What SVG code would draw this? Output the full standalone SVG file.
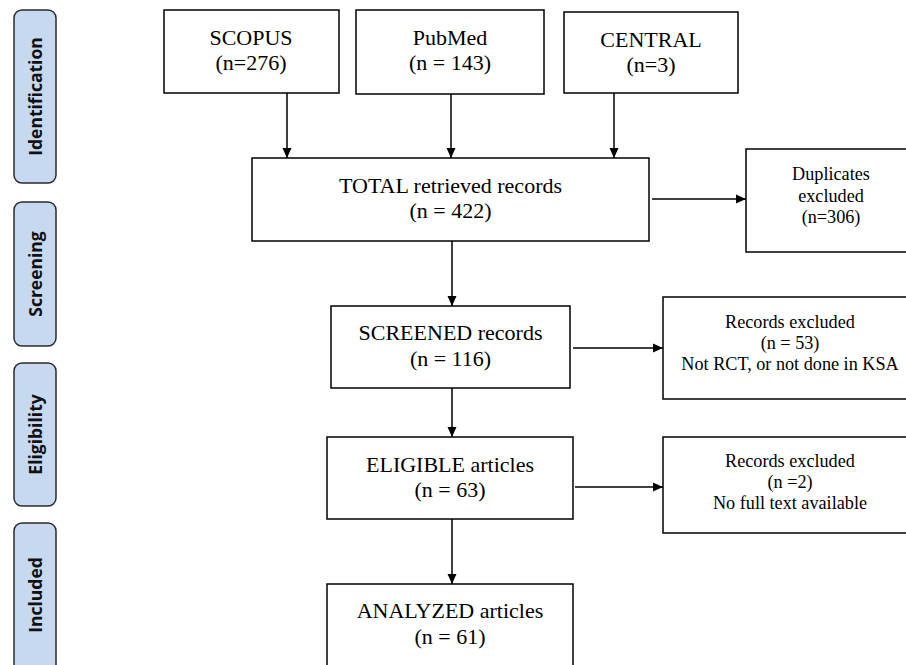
<svg xmlns="http://www.w3.org/2000/svg" width="906" height="665" viewBox="0 0 906 665">
<style>
.side{fill:#c6d9f1;stroke:#2b2b2b;stroke-width:1.5}
.st{font-family:"Open Sans","DejaVu Sans",sans-serif;font-weight:bold;font-size:17.5px;fill:#111;text-anchor:middle}
.box{fill:#fff;stroke:#000;stroke-width:1.5}
.t{font-family:"Liberation Serif","Times New Roman",serif;font-size:22px;fill:#000;text-anchor:middle}
.s{font-family:"Liberation Serif","Times New Roman",serif;font-size:18.2px;fill:#000;text-anchor:middle}
.c{stroke:#000;stroke-width:1.5;fill:none;marker-end:url(#ah)}
</style>
<defs>
<marker id="ah" markerWidth="10" markerHeight="10" refX="10" refY="5" orient="auto" markerUnits="userSpaceOnUse">
<path d="M0,0.5 L10,5 L0,9.5 Z" fill="#000"/>
</marker>
</defs>
<rect width="906" height="665" fill="#fff"/>
<g id="stage-identification"><rect class="side" x="14" y="10" width="42" height="173" rx="8"/><text class="st" transform="translate(42,96.5) rotate(-90)">Identification</text></g>
<g id="stage-screening"><rect class="side" x="14" y="202" width="42" height="144" rx="8"/><text class="st" transform="translate(42,274) rotate(-90)">Screening</text></g>
<g id="stage-eligibility"><rect class="side" x="14" y="363" width="42" height="143" rx="8"/><text class="st" transform="translate(42,434.5) rotate(-90)">Eligibility</text></g>
<g id="stage-included"><rect class="side" x="14" y="523" width="42" height="160" rx="8"/><text class="st" transform="translate(42,595) rotate(-90)">Included</text></g>
<g id="scopus"><rect class="box" x="164" y="10" width="175" height="83"/><text class="t" x="251" y="45">SCOPUS</text><text class="t" x="251" y="70">(n=276)</text></g>
<g id="pubmed"><rect class="box" x="356" y="10" width="188" height="84"/><text class="t" x="450" y="45">PubMed</text><text class="t" x="450" y="70">(n = 143)</text></g>
<g id="central"><rect class="box" x="564" y="12" width="174" height="81"/><text class="t" x="651" y="47">CENTRAL</text><text class="t" x="651" y="72">(n=3)</text></g>
<g id="total"><rect class="box" x="252" y="158" width="397" height="83"/><text class="t" x="450.5" y="193">TOTAL retrieved records</text><text class="t" x="450.5" y="218">(n = 422)</text></g>
<g id="duplicates"><rect class="box" x="746" y="149" width="170" height="103"/><text class="s" x="831" y="180">Duplicates</text><text class="s" x="831" y="202">excluded</text><text class="s" x="831" y="223">(n=306)</text></g>
<g id="screened"><rect class="box" x="331" y="306" width="239" height="82"/><text class="t" x="450.5" y="340">SCREENED records</text><text class="t" x="450.5" y="366">(n = 116)</text></g>
<g id="excluded1"><rect class="box" x="663" y="297" width="253" height="102"/><text class="s" x="790" y="328">Records excluded</text><text class="s" x="790" y="349">(n = 53)</text><text class="s" x="790" y="370">Not RCT, or not done in KSA</text></g>
<g id="eligible"><rect class="box" x="327" y="437" width="246" height="82"/><text class="t" x="450" y="472">ELIGIBLE articles</text><text class="t" x="450" y="497">(n = 63)</text></g>
<g id="excluded2"><rect class="box" x="663" y="437" width="253" height="96"/><text class="s" x="790" y="467">Records excluded</text><text class="s" x="790" y="488">(n =2)</text><text class="s" x="790" y="509">No full text available</text></g>
<g id="analyzed"><rect class="box" x="327" y="584" width="246" height="100"/><text class="t" x="450" y="618">ANALYZED articles</text><text class="t" x="450" y="644">(n = 61)</text></g>
<g id="connectors">
<line class="c" x1="287" y1="93" x2="287" y2="158"/>
<line class="c" x1="451" y1="94" x2="451" y2="158"/>
<line class="c" x1="614" y1="93" x2="614" y2="158"/>
<line class="c" x1="652" y1="199" x2="746" y2="199"/>
<line class="c" x1="452" y1="241" x2="452" y2="306"/>
<line class="c" x1="573" y1="348" x2="663" y2="348"/>
<line class="c" x1="452" y1="388" x2="452" y2="437"/>
<line class="c" x1="575" y1="487" x2="663" y2="487"/>
<line class="c" x1="452" y1="519" x2="452" y2="584"/>
</g>
</svg>
